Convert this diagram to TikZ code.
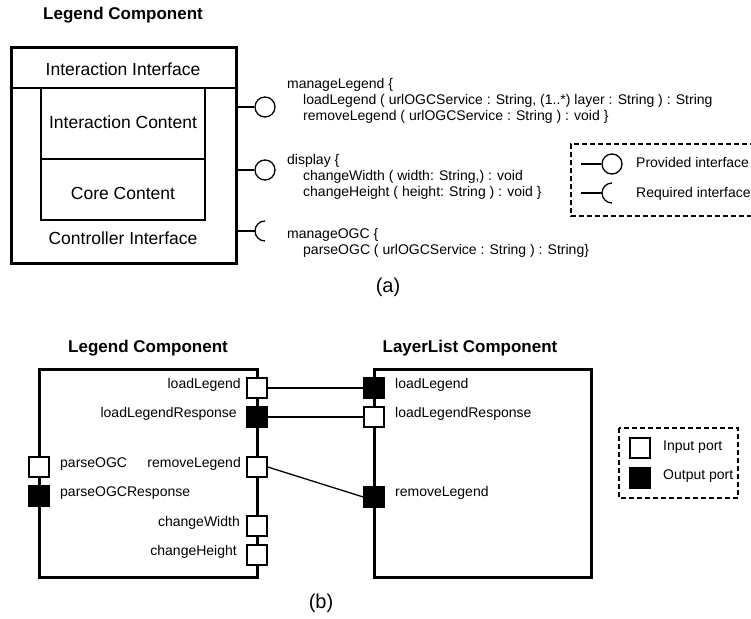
\documentclass[tikz,border=0pt]{standalone}
\usepackage{fontspec}
\setmainfont{Liberation Sans}
\begin{document}
\begin{tikzpicture}[x=1pt,y=-1pt,
  every node/.style={inner sep=0pt},
  ttl/.style={font=\bfseries\fontsize{17}{20}\selectfont},
  boxtxt/.style={font=\fontsize{17.5}{20}\selectfont},
  txt/.style={font=\fontsize{14}{16}\selectfont, anchor=west, text height=10pt, text depth=3pt},
  rtxt/.style={txt, anchor=east},
  subcap/.style={font=\fontsize{20}{24}\selectfont},
  compbox/.style={draw, line width=3pt},
  thin/.style={line width=1.3pt},
  lolli/.style={circle, draw, line width=1.3pt, minimum size=20pt},
  inport/.style={draw, line width=1.5pt, fill=white, minimum size=20pt},
  outport/.style={inport, fill=black},
  legbox/.style={line width=1.3pt, dash pattern=on 5pt off 3pt}
]
\useasboundingbox (0,0) rectangle (751,618);

% ---------------- (a) ----------------
\node[ttl] (tA) at (123,15) {Legend Component};
\node[compbox, minimum width=225pt, minimum height=215pt] (legA) at (123.5,155.5) {};
\draw[line width=2pt] (legA.west |- 0,88) -- (legA.east |- 0,88);
\draw[thin] (41,88) rectangle (205,220);
\draw[thin] (41,159) -- (205,159);
\node[boxtxt] (ii) at (123,69) {Interaction Interface};
\node[boxtxt] (ic) at (123,122) {Interaction Content};
\node[boxtxt] (cc) at (123,193) {Core Content};
\node[boxtxt] (ci) at (123,238) {Controller Interface};

% provided interfaces
\node[lolli] (pML) at (265,107) {};
\node[lolli] (pDS) at (265,170) {};
\draw[thin] (legA.east |- pML) -- (pML.west);
\draw[thin] (legA.east |- pDS) -- (pDS.west);
% required interface (socket opening to the right)
\coordinate (rOGC) at (255,231);
\draw[thin] (legA.east |- rOGC) -- (rOGC);
\draw[thin] (rOGC) ++(10,-10) arc[start angle=90, end angle=270, radius=10pt];

% operations
\node[txt] (t1) at (287,85)  {manageLegend \{};
\node[txt] (t2) at (303,101) {loadLegend ( urlOGCService : String, (1..*) layer : String ) : String};
\node[txt] (t3) at (303,117) {removeLegend ( urlOGCService : String ) : void \}};
\node[txt] (t4) at (287,161) {display \{};
\node[txt] (t5) at (303,177) {changeWidth ( width: String,) : void};
\node[txt] (t6) at (303,193) {changeHeight ( height: String ) : void \}};
\node[txt] (t7) at (287,235) {manageOGC \{};
\node[txt] (t8) at (303,251) {parseOGC ( urlOGCService : String ) : String\}};

% key for interfaces
\draw[legbox] (755,144) -- (571,144) -- (571,216) -- (755,216);
\node[lolli] (kP) at (612,164) {};
\draw[thin] (581,164) -- (kP.west);
\coordinate (kR) at (602,193);
\draw[thin] (581,193) -- (kR);
\draw[thin] (kR) ++(10,-10) arc[start angle=90, end angle=270, radius=10pt];
\node[txt] (kPt) at (636,164) {Provided interface};
\node[txt] (kRt) at (636,194) {Required interface};

\node[subcap] (capA) at (388,287) {(a)};

% ---------------- (b) ----------------
\node[ttl] (tL) at (148,348) {Legend Component};
\node[ttl] (tR) at (470,348) {LayerList Component};
\node[compbox, minimum width=218pt, minimum height=208pt] (legB) at (148,473) {};
\node[compbox, minimum width=217pt, minimum height=208pt] (layB) at (482.5,473) {};

% ports of the Legend component
\node[inport]  (lLoad) at (257,388) {};
\node[outport] (lLoadR) at (257,417) {};
\node[inport]  (lRem) at (257,467) {};
\node[inport]  (lCW) at (257,526) {};
\node[inport]  (lCH) at (257,555) {};
\node[inport]  (lPar) at (39,467) {};
\node[outport] (lParR) at (39,496) {};
\node[rtxt] (nLoad) at (241,385) {loadLegend};
\node[rtxt] (nLoadR) at (237,414) {loadLegendResponse};
\node[rtxt] (nRem) at (241,464) {removeLegend};
\node[rtxt] (nCW) at (240,523) {changeWidth};
\node[rtxt] (nCH) at (237,552) {changeHeight};
\node[txt] (nPar) at (60,464) {parseOGC};
\node[txt] (nParR) at (60,493) {parseOGCResponse};

% ports of the LayerList component
\node[outport] (rLoad) at (374,388) {};
\node[inport]  (rLoadR) at (374,417) {};
\node[outport] (rRem) at (374,497) {};
\node[txt] (mLoad) at (395,385) {loadLegend};
\node[txt] (mLoadR) at (395,414) {loadLegendResponse};
\node[txt] (mRem) at (395,493) {removeLegend};

% links
\draw[line width=1.5pt] (lLoad.east) -- (rLoad.west);
\draw[line width=1.5pt] (lLoadR.east) -- (rLoadR.west);
\draw[line width=1.3pt] (lRem.east) -- (rRem.west);

% key for ports
\draw[legbox] (619,428) rectangle (738,498);
\node[inport] (kIn) at (640,448) {};
\node[outport] (kOut) at (640,478) {};
\node[txt] (kInt) at (663,447) {Input port};
\node[txt] (kOutt) at (663,476) {Output port};

\node[subcap] (capB) at (321,603) {(b)};
\end{tikzpicture}
\end{document}
